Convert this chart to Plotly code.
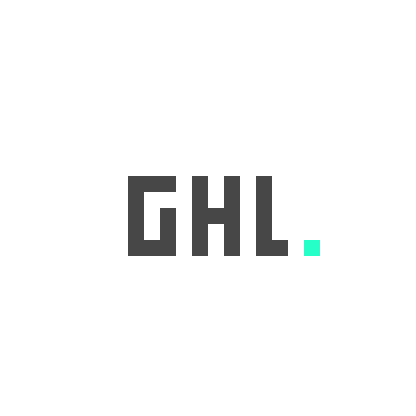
import plotly.graph_objects as go

# Logo glyphs on a 5-row pixel grid ("#" = filled cell)
glyph_g = ["###",
           "#..",
           "#.#",
           "#.#",
           "###"]
glyph_h = ["#.#",
           "#.#",
           "###",
           "#.#",
           "#.#"]
glyph_l = ["#.",
           "#.",
           "#.",
           "#.",
           "##"]
glyph_dot = [".",
             ".",
             ".",
             ".",
             "#"]

glyphs = [glyph_g, glyph_h, glyph_l, glyph_dot]
glyph_values = [1, 1, 1, 2]   # 1 = dark grey, 2 = mint accent

# Assemble the grid, one blank column between glyphs
rows = []
for r in range(5):
    row = []
    for k, (g, v) in enumerate(zip(glyphs, glyph_values)):
        if k > 0:
            row.append(None)
        row += [v if ch == "#" else None for ch in g[r]]
    rows.append(row)

fig = go.Figure()
fig.add_trace(go.Heatmap(
    z=rows,
    zmin=1, zmax=2,
    colorscale=[[0, "#474747"], [0.5, "#474747"], [0.5, "#26ffc8"], [1, "#26ffc8"]],
    showscale=False,
    hoverinfo="skip",
))

# page body adds an 8px margin, so the figure is 400px and sits at (8, 8)
fig.update_layout(
    width=400, height=400,
    margin=dict(l=0, r=0, t=0, b=0),
    paper_bgcolor="white",
    plot_bgcolor="white",
    xaxis=dict(range=[-8, 17], visible=False, fixedrange=True),
    yaxis=dict(range=[14, -11], visible=False, fixedrange=True),
    showlegend=False,
)

fig.write_html("out.html")
